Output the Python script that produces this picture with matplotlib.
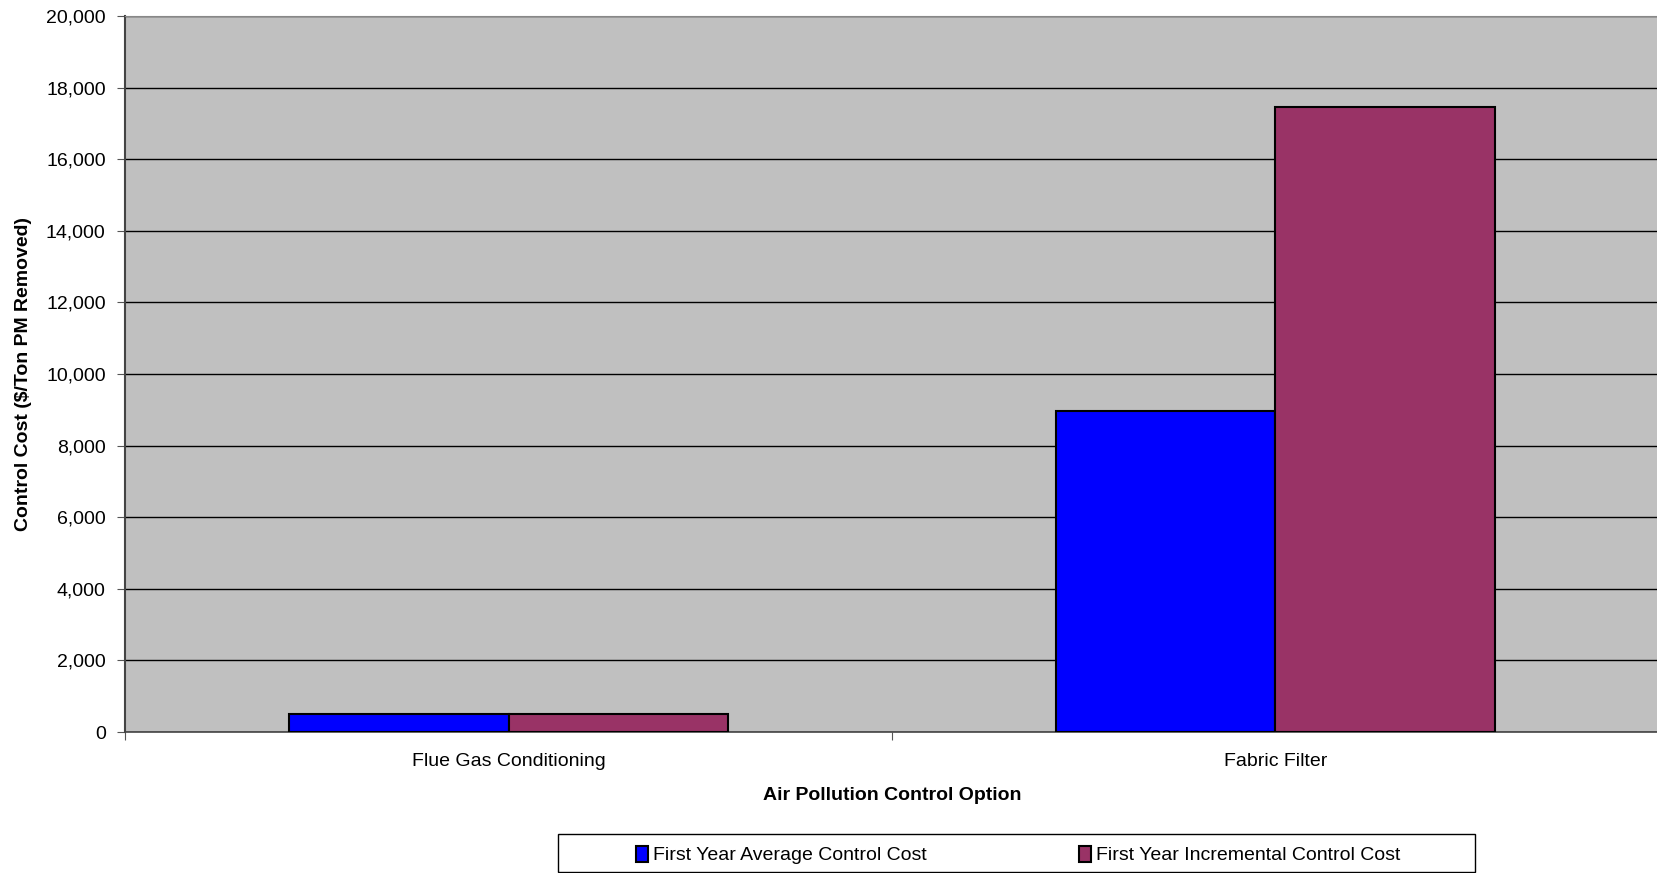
import numpy as np
import matplotlib
matplotlib.use("Agg")
import matplotlib.pyplot as plt
from matplotlib.ticker import FuncFormatter
from matplotlib.patches import Rectangle

plt.rcParams['font.family'] = ['Liberation Sans', 'DejaVu Sans']

categories = ["Flue Gas Conditioning", "Fabric Filter"]
series_names = ["First Year Average Control Cost", "First Year Incremental Control Cost"]
avg_cost = [500, 8970]
incr_cost = [500, 17460]
colors = ["#0000FF", "#993366"]

fig = plt.figure(figsize=(16.58, 8.73), dpi=100)
ax = fig.add_axes([0.0755, 0.1615, 0.925, 0.8202])
ax.set_facecolor("#C0C0C0")

x = np.arange(len(categories))
w = 1 / 3.5  # excel gap width 150%
ax.bar(x - w / 2, avg_cost, w, color=colors[0], edgecolor="black", linewidth=1.5,
       label=series_names[0], zorder=3)
ax.bar(x + w / 2, incr_cost, w, color=colors[1], edgecolor="black", linewidth=1.5,
       label=series_names[1], zorder=3)

ax.set_xlim(-0.5, 1.5)
ax.set_ylim(0, 20000)
ax.set_yticks(np.arange(0, 20001, 2000))
ax.yaxis.set_major_formatter(FuncFormatter(lambda v, p: f"{int(v):,}"))
ax.grid(axis="y", color="black", linewidth=1.0, zorder=1)

# category ticks between groups, labels at centres
ax.set_xticks([-0.5, 0.5, 1.5])
ax.set_xticklabels([])
ax.set_xticks(x, minor=True)
ax.set_xticklabels(categories, minor=True)
ax.tick_params(axis="x", which="minor", length=0, pad=15, labelsize=14)
ax.tick_params(axis="x", which="major", length=6, color="#555555")
ax.tick_params(axis="y", length=6, color="#555555", labelsize=14, pad=8)

ax.spines["right"].set_visible(False)
ax.spines["top"].set_color("#888888")
ax.spines["left"].set_color("#444444")
ax.spines["left"].set_linewidth(1.5)
ax.spines["bottom"].set_color("#444444")
ax.spines["bottom"].set_linewidth(1.2)

ax.set_xlabel("Air Pollution Control Option", fontsize=14, fontweight="bold", labelpad=12)
ax.set_ylabel("Control Cost ($/Ton PM Removed)", fontsize=14, fontweight="bold", labelpad=10)

# legend box like excel
fig.patches.append(Rectangle((558 / 1658, 1 / 873), 917 / 1658, 38 / 873,
                             transform=fig.transFigure, facecolor="white",
                             edgecolor="black", linewidth=1.0))
leg = fig.legend(loc="center", bbox_to_anchor=(1018 / 1658, 1 - 855 / 873),
                 ncol=2, fontsize=14, frameon=False, handlelength=0.65,
                 handleheight=0.9, handletextpad=0.25, columnspacing=7.8,
                 borderaxespad=0)

fig.savefig("out.png", dpi=100)
